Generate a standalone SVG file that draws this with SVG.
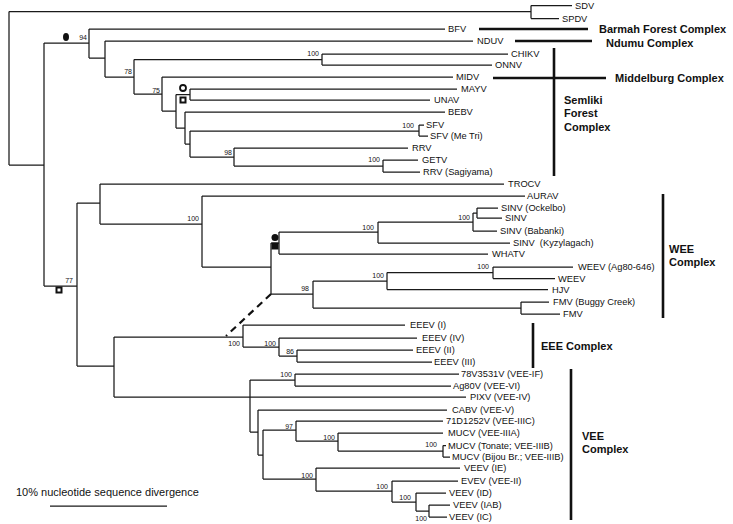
<svg xmlns="http://www.w3.org/2000/svg" width="733" height="524" viewBox="0 0 733 524">
<style>
.t{fill:none;stroke:#1a1a1a;stroke-width:1.25}
.k{fill:none;stroke:#111;stroke-width:2.6}
.d{fill:none;stroke:#111;stroke-width:2.2;stroke-dasharray:7 5}
text{font-family:"Liberation Sans",Arial,sans-serif;fill:#111}
.l{font-size:9.3px}
.b{font-size:7px;fill:#222}
.c{font-size:11px;font-weight:bold}
.s{font-size:11px}
</style>
<rect width="733" height="524" fill="#fff"/>
<g id="connectors">
<path class="t" d="M9,11.5V165 M9,11.5H531 M531,5.5V18.5 M531,5.5H572 M531,18.5H559 M9,165H44
M44,43V286 M44,43H89 M89,29V58 M89,29H445 M89,58H105 M105,41V77 M105,41H473 M105,77H134
M134,59.5V94 M134,59.5H322 M322,54V65 M322,54H508 M322,65H492 M134,94H162
M162,77V111 M162,77H453 M162,111H176 M176,94.5V128 M176,94.5H190 M190,89V100 M190,89H457 M190,100H430
M176,128H185 M185,112V144 M185,112H445 M185,144H190 M190,131V157 M190,131H419 M419,125V136 M419,125H424 M419,136H428
M190,157H234 M234,148V166 M234,148H408 M234,166H383 M383,160V172 M383,160H418 M383,172H420
M44,286H77 M77,203V366 M77,203H100 M100,184V224 M100,184H504 M100,224H202
M202,196V267 M202,196H525 M202,267H271 M271,243V294 M271,243H279 M279,232V254 M279,232H378 M279,254H488
M378,222V243 M378,222H473 M378,243H510 M473,213V231 M473,213H477 M473,231H497 M477,208V218 M477,208H498 M477,218H502
M271,294H313 M313,281V308 M313,281H387 M387,272.5V289.5 M387,272.5H493 M387,289.5H548 M493,267V278.5 M493,267H573 M493,278.5H555
M313,308H521 M521,302V314 M521,302H549 M521,314H560
M77,366H114 M114,337V397 M114,337H243 M114,397H466
M243,325V347 M243,325H405 M243,347H279 M279,338V356 M279,338H417 M279,356H297 M297,350V362 M297,350H413 M297,362H432
M250,380V432 M250,380H295 M295,374V386 M295,374H459 M295,386H451 M250,432H258
M258,410V455 M258,410H447 M258,455H263 M263,430V479 M263,430H296 M296,421V441 M296,421H443 M296,441H338
M338,433V451 M338,433H443 M338,451H443 M443,445.5V457 M443,445.5H446 M443,457H450
M263,479H316 M316,468V491 M316,468H460 M316,491H392 M392,481V502 M392,481H458 M392,502H416
M416,493V511 M416,493H446 M416,511H429 M429,505V517 M429,505H450 M429,517H447"/>
<path class="d" d="M271,294L226,336"/>
</g>
<g id="markers">
<ellipse cx="66" cy="37" rx="3" ry="4" fill="#111"/>
<circle cx="183" cy="88" r="3" fill="#fff" stroke="#111" stroke-width="1.8"/>
<rect x="180.5" y="97.5" width="5" height="5" fill="#fff" stroke="#111" stroke-width="2"/>
<rect x="56.5" y="287.5" width="5" height="5" fill="#fff" stroke="#111" stroke-width="2"/>
<circle cx="275" cy="237.5" r="3.5" fill="#111"/>
<rect x="271.5" y="242.5" width="7" height="7" fill="#111"/>
</g>
<g id="bootstrap" class="b">
<text x="87" y="40" text-anchor="end">94</text>
<text x="132" y="74" text-anchor="end">78</text>
<text x="160" y="92.5" text-anchor="end">75</text>
<text x="319" y="56" text-anchor="end">100</text>
<text x="414" y="128" text-anchor="end">100</text>
<text x="232" y="155" text-anchor="end">98</text>
<text x="380" y="162" text-anchor="end">100</text>
<text x="73" y="283" text-anchor="end">77</text>
<text x="199" y="221" text-anchor="end">100</text>
<text x="374" y="230" text-anchor="end">100</text>
<text x="470" y="219.5" text-anchor="end">100</text>
<text x="489" y="269" text-anchor="end">100</text>
<text x="384" y="278" text-anchor="end">100</text>
<text x="309" y="290.5" text-anchor="end">98</text>
<text x="240" y="345.5" text-anchor="end">100</text>
<text x="276" y="345.5" text-anchor="end">100</text>
<text x="294" y="353.5" text-anchor="end">86</text>
<text x="292" y="377" text-anchor="end">100</text>
<text x="293" y="428.5" text-anchor="end">97</text>
<text x="335" y="439.5" text-anchor="end">100</text>
<text x="437" y="446.5" text-anchor="end">100</text>
<text x="313" y="477.5" text-anchor="end">100</text>
<text x="388" y="488.5" text-anchor="end">100</text>
<text x="411" y="499.5" text-anchor="end">100</text>
<text x="427" y="520.5" text-anchor="end">100</text>
</g>
<g class="l">
<g id="n-sdv"><text x="575" y="8.8">SDV</text></g>
<g id="n-spdv"><text x="562" y="21.8">SPDV</text></g>
<g id="n-bfv"><text x="448" y="32.3">BFV</text></g>
<g id="n-nduv"><text x="477" y="44.3">NDUV</text></g>
<g id="n-chikv"><text x="511" y="57.3">CHIKV</text></g>
<g id="n-onnv"><text x="495" y="68.3">ONNV</text></g>
<g id="n-midv"><text x="456" y="80.3">MIDV</text></g>
<g id="n-mayv"><text x="461" y="92.3">MAYV</text></g>
<g id="n-unav"><text x="434" y="103.3">UNAV</text></g>
<g id="n-bebv"><text x="448" y="115.3">BEBV</text></g>
<g id="n-sfv"><text x="426" y="128.3">SFV</text></g>
<g id="n-sfvme"><text x="430" y="139.3">SFV (Me Tri)</text></g>
<g id="n-rrv"><text x="412" y="151.3">RRV</text></g>
<g id="n-getv"><text x="422" y="163.3">GETV</text></g>
<g id="n-rrvsag"><text x="423" y="175.3">RRV (Sagiyama)</text></g>
<g id="n-trocv"><text x="508" y="187.3">TROCV</text></g>
<g id="n-aurav"><text x="527" y="199.3">AURAV</text></g>
<g id="n-sinvock"><text x="501" y="211.3">SINV (Ockelbo)</text></g>
<g id="n-sinv"><text x="505" y="221.3">SINV</text></g>
<g id="n-sinvbab"><text x="500" y="234.3">SINV (Babanki)</text></g>
<g id="n-sinvkyz"><text x="513" y="246.3" style="white-space:pre">SINV  (Kyzylagach)</text></g>
<g id="n-whatv"><text x="492" y="257.3">WHATV</text></g>
<g id="n-weevag"><text x="578" y="270.3">WEEV (Ag80-646)</text></g>
<g id="n-weev"><text x="558" y="281.8">WEEV</text></g>
<g id="n-hjv"><text x="552" y="292.8">HJV</text></g>
<g id="n-fmvbc"><text x="553" y="305.3">FMV (Buggy Creek)</text></g>
<g id="n-fmv"><text x="563" y="317.3">FMV</text></g>
<g id="n-eeev1"><text x="410" y="328.3">EEEV (I)</text></g>
<g id="n-eeev4"><text x="422" y="341.3">EEEV (IV)</text></g>
<g id="n-eeev2"><text x="416" y="353.3">EEEV (II)</text></g>
<g id="n-eeev3"><text x="434" y="365.3">EEEV (III)</text></g>
<g id="n-78v"><text x="461" y="377.3">78V3531V (VEE-IF)</text></g>
<g id="n-ag80v"><text x="453" y="389.3">Ag80V (VEE-VI)</text></g>
<g id="n-pixv"><text x="470" y="400.3">PIXV (VEE-IV)</text></g>
<g id="n-cabv"><text x="452" y="413.3">CABV (VEE-V)</text></g>
<g id="n-71d"><text x="446" y="424.3">71D1252V (VEE-IIIC)</text></g>
<g id="n-mucv3a"><text x="448" y="436.3">MUCV (VEE-IIIA)</text></g>
<g id="n-mucvton"><text x="448" y="448.8">MUCV (Tonate; VEE-IIIB)</text></g>
<g id="n-mucvbij"><text x="452" y="460.3">MUCV (Bijou Br.; VEE-IIIB)</text></g>
<g id="n-veevie"><text x="464" y="471.3">VEEV (IE)</text></g>
<g id="n-evev"><text x="461" y="484.3">EVEV (VEE-II)</text></g>
<g id="n-veevid"><text x="449" y="496.3">VEEV (ID)</text></g>
<g id="n-veeviab"><text x="453" y="508.3">VEEV (IAB)</text></g>
<g id="n-veevic"><text x="449" y="520.3">VEEV (IC)</text></g>
</g>
<g id="complexes">
<g id="c-barmah"><path class="k" d="M479,29H588"/><text class="c" x="599" y="33">Barmah Forest Complex</text></g>
<g id="c-ndumu"><path class="k" d="M515,41H592"/><text class="c" x="606" y="47">Ndumu Complex</text></g>
<g id="c-middelburg"><path class="k" d="M493,78H606"/><text class="c" x="615" y="82">Middelburg Complex</text></g>
<g id="c-semliki"><path class="k" d="M554,48V176"/><text class="c" x="564" y="104">Semliki</text><text class="c" x="564" y="117">Forest</text><text class="c" x="564" y="130.5">Complex</text></g>
<g id="c-wee"><path class="k" d="M663,194V318"/><text class="c" x="669" y="253">WEE</text><text class="c" x="669" y="266">Complex</text></g>
<g id="c-eee"><path class="k" d="M533,323V368"/><text class="c" x="541" y="349.5">EEE Complex</text></g>
<g id="c-vee"><path class="k" d="M571,369V520"/><text class="c" x="582" y="440">VEE</text><text class="c" x="582" y="452.5">Complex</text></g>
</g>
<g id="scale">
<text class="s" x="16" y="495.5">10% nucleotide sequence divergence</text>
<path class="t" d="M50,506H167" stroke-width="1.6"/>
</g>
</svg>
